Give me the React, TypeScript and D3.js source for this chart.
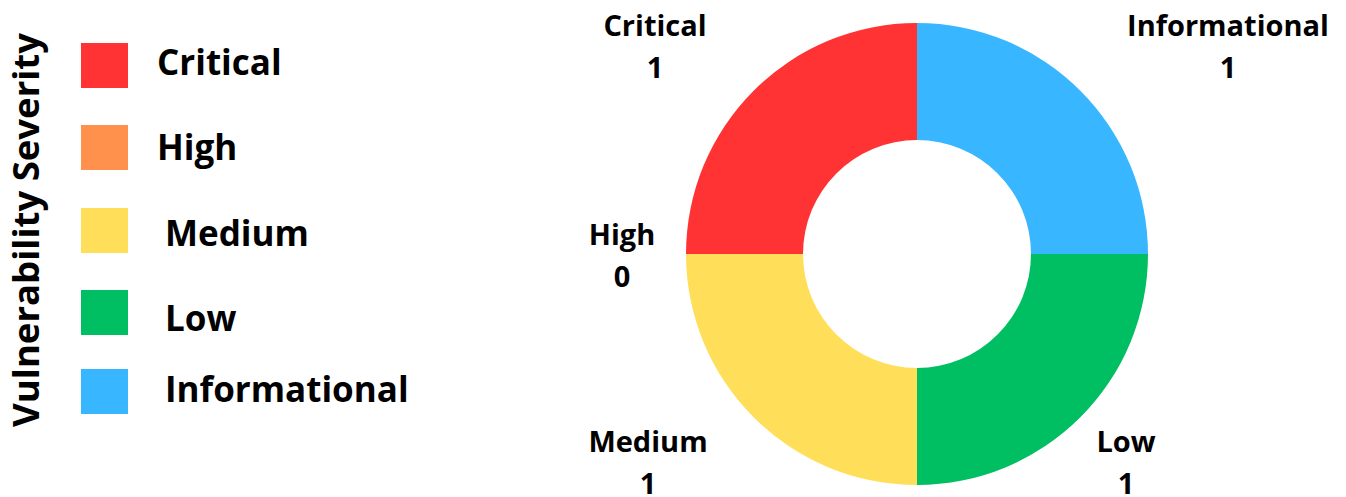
import React from "react";
import * as d3 from "d3";

const categories = ["Critical", "High", "Medium", "Low", "Informational"];
const counts = [1, 0, 1, 1, 1];
const colors = ["#FF3333", "#FF914D", "#FFDE59", "#00BF63", "#38B6FF"];
const axisTitle = "Vulnerability Severity";

const W = 1346;
const H = 497;
const cx = 917;
const cy = 254;
const outerR = 231;
const innerR = 114;

// label anchor offsets (layout) relative to donut centre, per category
const labelOffsets: Record<string, [number, number]> = {
  Critical: [-262, -218],
  High: [-295, -9],
  Medium: [-269, 198],
  Low: [209, 198],
  Informational: [311, -218],
};

// legend layout
const legendSwatchX = 81;
const legendSwatchTops = [43, 125, 208, 290, 369];
const legendTextX = [157, 157, 165, 165, 165];
const legendBaselines = [75, 160, 246, 331, 402];

export default function App() {
  const data = categories.map((c, i) => ({ c, v: counts[i], color: colors[i] }));
  const pie = d3
    .pie<{ c: string; v: number; color: string }>()
    .value((d) => d.v)
    .sort(null)
    .startAngle(0)
    .endAngle(-2 * Math.PI);
  const arcs = pie(data);
  const arc = d3
    .arc<d3.PieArcDatum<{ c: string; v: number; color: string }>>()
    .innerRadius(innerR)
    .outerRadius(outerR);

  const font = "'Open Sans', Lato, sans-serif";

  return (
    <svg
      width={W}
      height={H}
      style={{ position: "absolute", left: 0, top: 0, background: "#fff" }}
    >
      <rect width={W} height={H} fill="#fff" />
      <text
        transform={`translate(39,230) rotate(-90)`}
        textAnchor="middle"
        fontFamily={font}
        fontWeight={700}
        fontSize={36.5}
        fill="#000"
      >
        {axisTitle}
      </text>
      {data.map((d, i) => (
        <g key={d.c}>
          <rect x={legendSwatchX} y={legendSwatchTops[i]} width={47} height={45} fill={d.color} />
          <text
            x={legendTextX[i]}
            y={legendBaselines[i]}
            fontFamily={font}
            fontWeight={700}
            fontSize={35}
            fill="#000"
          >
            {d.c}
          </text>
        </g>
      ))}
      <g transform={`translate(${cx},${cy})`}>
        {arcs.map((a) => (
          <path key={a.data.c} d={arc(a) || ""} fill={a.data.color} />
        ))}
        {arcs.map((a) => {
          const [dx, dy] = labelOffsets[a.data.c];
          return (
            <text
              key={"l" + a.data.c}
              x={dx}
              y={dy}
              textAnchor="middle"
              fontFamily={font}
              fontWeight={700}
              fontSize={29}
              fill="#000"
            >
              <tspan x={dx} dy={0}>
                {a.data.c}
              </tspan>
              <tspan x={dx} dy={42}>
                {a.data.v}
              </tspan>
            </text>
          );
        })}
      </g>
    </svg>
  );
}
